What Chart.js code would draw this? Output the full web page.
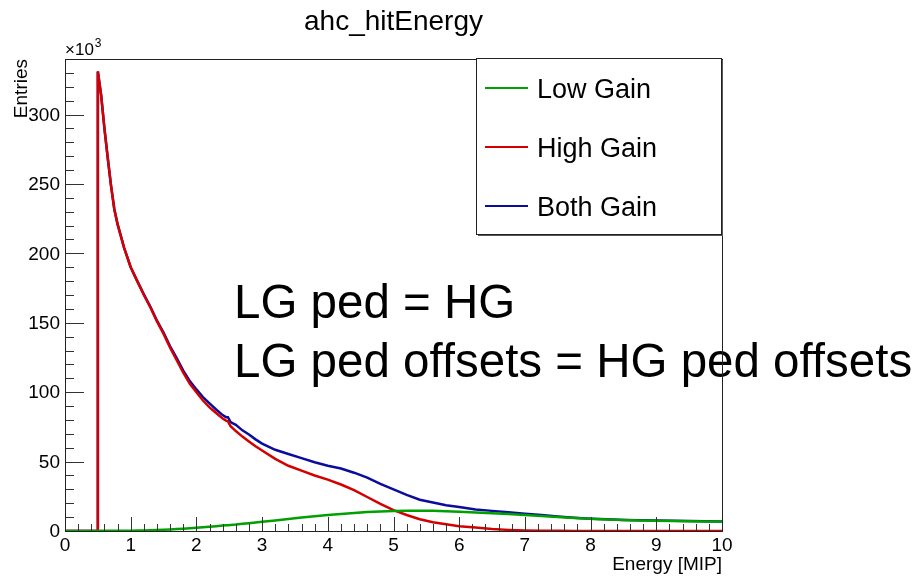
<!DOCTYPE html>
<html lang="en">
<head>
    <meta charset="UTF-8">
    <title>ahc_hitEnergy</title>
    <script src="https://cdn.jsdelivr.net/npm/chart.js"></script>
    <style>
        body { margin: 0; background: #fff; }
        #wrap { width: 923px; height: 577px; position: relative; }
    </style>
</head>
<body>
    <div id="wrap"><canvas id="energyChart"></canvas></div>

    <script>
        // bin positions (MIP) and entries per bin, in units of 10^3
        const energy = [0, 0.5, 0.5, 0.55, 0.6, 0.65, 0.7, 0.75, 0.8, 0.9, 1.0, 1.1, 1.2, 1.3, 1.4, 1.5, 1.6, 1.7, 1.8, 1.9,
            2.0, 2.1, 2.2, 2.3, 2.4, 2.45, 2.48, 2.52, 2.6, 2.7, 2.8, 2.9, 3.0, 3.2, 3.4, 3.6, 3.8, 4.0, 4.2, 4.4,
            4.6, 4.8, 5.0, 5.2, 5.4, 5.6, 5.8, 6.0, 6.25, 6.5, 6.75, 7.0, 7.25, 7.5, 7.75, 8.0, 8.25, 8.5, 8.75, 9.0,
            9.25, 9.5, 9.75, 10.0];

        const lowGain = [0, 0, 0, 0.1, 0.1, 0.1, 0.1, 0.1, 0.1, 0.1, 0.2, 0.3, 0.4, 0.5, 0.7, 0.9, 1.1, 1.4, 1.7, 2.0,
            2.3, 2.7, 3.1, 3.5, 3.9, 4.1, 4.2, 4.4, 4.7, 5.2, 5.6, 6.1, 6.6, 7.6, 8.7, 9.7, 10.6, 11.5, 12.3, 13.0,
            13.6, 14.1, 14.4, 14.6, 14.6, 14.5, 14.2, 13.8, 13.3, 12.8, 12.2, 11.5, 10.8, 10.1, 9.4, 8.8, 8.3, 7.9, 7.6, 7.4,
            7.2, 7.0, 6.9, 6.8];

        const highGain = [0, 0, 331, 314, 290, 269, 249, 232, 221, 204, 190, 180, 170, 161, 151, 142, 132, 123, 114, 106,
            100, 94, 89, 85, 81, 79.5, 79, 75.5, 72, 68, 64.5, 61, 58, 52, 47, 43.5, 40, 37, 33.5, 29.5,
            24.5, 19.5, 15, 11.5, 8.5, 6.3, 4.8, 3.5, 2.6, 1.4, 0.8, 0.4, 0.2, 0.1, 0, 0, 0, 0, 0, 0,
            0, 0, 0, 0];

        const bothGain = [0, 0, 331, 314, 290, 269, 249, 232, 221, 204, 190, 180, 170.5, 161.5, 151.5, 143, 133, 124.5, 115.5, 108,
            102, 96.5, 92, 87.5, 83.5, 82, 82, 78.5, 76.5, 72.5, 69.5, 66, 63, 58.5, 55.5, 52.5, 49.5, 47, 45, 42,
            38.5, 34, 30, 26, 22.5, 20.5, 18.5, 17.3, 15.5, 14.5, 13.5, 12.5, 11.5, 10.5, 9.6, 8.9, 8.4, 8.0, 7.8, 7.6,
            7.4, 7.2, 7.0, 6.9];

        const seriesNames = ["Low Gain", "High Gain", "Both Gain"];
        const seriesColors = ["#00a000", "#d40000", "#0c0c9c"];
        const yMajorTicks = [0, 50, 100, 150, 200, 250, 300];
        const xMajorTicks = [0, 1, 2, 3, 4, 5, 6, 7, 8, 9, 10];
        const noteLines = ["LG ped = HG", "LG ped offsets = HG ped offsets"];

        const FONT = '"Liberation Sans", Arial, Helvetica, sans-serif';

        function toPoints(ys) {
            return ys.map((y, i) => ({ x: energy[i], y: y }));
        }

        // ROOT-like frame, ticks, labels, legend box and notes
        const rootStyle = {
            id: "rootStyle",
            afterDatasetsDraw(chart) {
                const ctx = chart.ctx;
                const area = chart.chartArea;
                const xs = chart.scales.x;
                const ys = chart.scales.y;
                ctx.save();

                // note text
                ctx.fillStyle = "#000";
                ctx.font = "47.5px " + FONT;
                ctx.textAlign = "left";
                ctx.textBaseline = "alphabetic";
                ctx.fillText(noteLines[0], 234, 318);
                ctx.fillText(noteLines[1], 234, 377);

                // ticks
                ctx.strokeStyle = "#333";
                ctx.lineWidth = 1;
                ctx.beginPath();
                for (let v = 0; v <= 10.001; v += 0.2) {
                    const px = Math.round(xs.getPixelForValue(v)) + 0.5;
                    const major = Math.abs(v - Math.round(v)) < 0.01;
                    ctx.moveTo(px, area.bottom);
                    ctx.lineTo(px, area.bottom - (major ? 14 : 7));
                }
                for (let v = 0; v <= 340; v += 10) {
                    const py = Math.round(ys.getPixelForValue(v)) + 0.5;
                    const major = v % 50 === 0;
                    ctx.moveTo(area.left, py);
                    ctx.lineTo(area.left + (major ? 19 : 9), py);
                }
                ctx.stroke();

                // frame
                ctx.strokeStyle = "#222";
                ctx.strokeRect(Math.round(area.left) + 0.5, Math.round(area.top) + 0.5,
                    Math.round(area.right - area.left), Math.round(area.bottom - area.top));

                // tick labels
                ctx.fillStyle = "#000";
                ctx.font = "19px " + FONT;
                ctx.textAlign = "right";
                ctx.textBaseline = "middle";
                yMajorTicks.forEach(v => ctx.fillText(String(v), area.left - 5, ys.getPixelForValue(v) + 1));
                ctx.textAlign = "center";
                ctx.textBaseline = "alphabetic";
                xMajorTicks.forEach(v => ctx.fillText(String(v), xs.getPixelForValue(v), 551));

                // axis titles
                ctx.textAlign = "right";
                ctx.fillText("Energy [MIP]", area.right, 570);
                ctx.save();
                ctx.translate(27, area.top);
                ctx.rotate(-Math.PI / 2);
                ctx.textAlign = "right";
                ctx.fillText("Entries", 0, 0);
                ctx.restore();

                // exponent
                ctx.textAlign = "left";
                ctx.font = "17px " + FONT;
                ctx.fillText("\u00d710", area.left, 55);
                const w = ctx.measureText("\u00d710").width;
                ctx.font = "12px " + FONT;
                ctx.fillText("3", area.left + w + 1, 47);

                // title
                ctx.font = "28px " + FONT;
                ctx.textAlign = "center";
                ctx.fillText("ahc_hitEnergy", (area.left + area.right) / 2, 30);

                // legend box
                const bx = 476, by = 58, bw = 245, bh = 176;
                ctx.fillStyle = "#fff";
                ctx.fillRect(bx, by, bw, bh);
                ctx.fillStyle = "#555";
                ctx.fillRect(bx + 2, by + bh, bw, 2);
                ctx.fillRect(bx + bw, by + 2, 2, bh);
                ctx.strokeStyle = "#222";
                ctx.strokeRect(bx + 0.5, by + 0.5, bw, bh);
                ctx.font = "27px " + FONT;
                ctx.textAlign = "left";
                ctx.textBaseline = "middle";
                seriesNames.forEach((name, i) => {
                    const ly = 88 + i * 59;
                    ctx.strokeStyle = seriesColors[i];
                    ctx.lineWidth = 2;
                    ctx.beginPath();
                    ctx.moveTo(485, ly);
                    ctx.lineTo(528, ly);
                    ctx.stroke();
                    ctx.fillStyle = "#000";
                    ctx.fillText(name, 537, ly + 3);
                });

                ctx.restore();
            }
        };

        const ctx = document.getElementById("energyChart").getContext("2d");
        window.energyChartInstance = new Chart(ctx, {
            type: "line",
            data: {
                datasets: [lowGain, highGain, bothGain].map((ys, i) => ({
                    label: seriesNames[i],
                    data: toPoints(ys),
                    borderColor: seriesColors[i],
                    borderWidth: 2.5,
                    pointRadius: 0,
                    tension: 0,
                    fill: false
                }))
            },
            options: {
                responsive: true,
                maintainAspectRatio: false,
                animation: false,
                devicePixelRatio: 1,
                layout: { padding: { left: 65, right: 201, top: 59, bottom: 46 } },
                plugins: {
                    legend: { display: false },
                    tooltip: { enabled: false }
                },
                scales: {
                    x: { type: "linear", min: 0, max: 10, display: false },
                    y: { type: "linear", min: 0, max: 340, display: false }
                }
            },
            plugins: [rootStyle]
        });
    </script>
</body>
</html>
